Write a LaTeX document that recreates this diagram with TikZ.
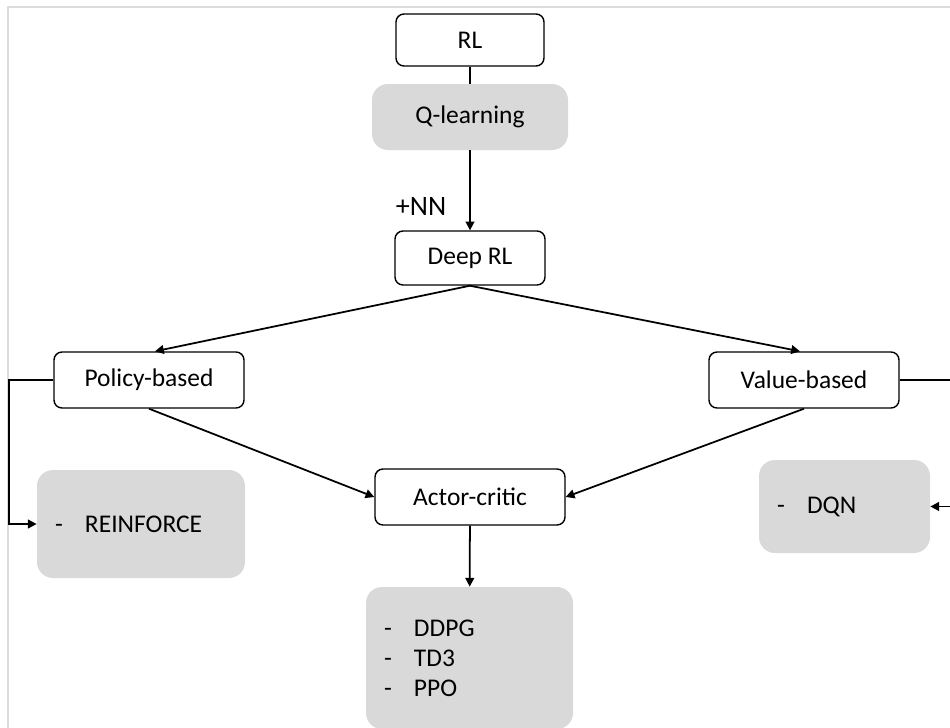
\documentclass[tikz,border=0pt]{standalone}
\usepackage{fontspec}
\setmainfont{Carlito}
\usetikzlibrary{arrows.meta}
\definecolor{boxgray}{HTML}{D9D9D9}
\definecolor{framegray}{HTML}{DCDCDC}
\newcommand{\dashitem}[1]{\makebox[0.6cm][l]{-}#1}
\tikzset{
  box/.style={draw,line width=0.8pt,rounded corners=0.16cm,fill=white,inner sep=0pt,
    font=\fontsize{14.5}{17}\selectfont},
  greybox/.style={fill=boxgray,rounded corners=0.32cm,align=left,inner xsep=0.36cm,inner ysep=0pt,
    font=\fontsize{14.5}{17}\selectfont},
  arr/.style={-{Triangle[length=5pt,width=5pt]},line width=1pt}
}
\begin{document}
\begin{tikzpicture}
\clip (0,0) rectangle (19,-14.54);
\draw[framegray,line width=1.2pt] (0.16,-14.6) -- (0.16,-0.14) -- (19.1,-0.14);
\node[box,minimum width=2.96cm,minimum height=1.04cm] (rl) at (9.40,-0.80) {RL};
\node[greybox,align=center,text width=3.2cm,minimum height=1.32cm] (qlearn) at (9.40,-2.34) {Q-learning};
\node[box,minimum width=3.0cm,minimum height=1.08cm] (deeprl) at (9.40,-5.16) {Deep RL};
\node[box,minimum width=3.8cm,minimum height=1.12cm] (policy) at (2.98,-7.60) {Policy-based};
\node[box,minimum width=3.8cm,minimum height=1.12cm] (value) at (16.08,-7.60) {Value-based};
\node[box,minimum width=3.8cm,minimum height=1.12cm] (actor) at (9.40,-9.94) {Actor-critic};
\node[greybox,text width=3.44cm,minimum height=2.16cm] (reinforce) at (2.82,-10.48) {\dashitem{REINFORCE}};
\node[greybox,text width=2.70cm,minimum height=1.86cm] (dqn) at (16.89,-10.13) {\dashitem{DQN}};
\node[greybox,text width=3.42cm,minimum height=2.84cm] (variants) at (9.39,-13.16)
  {\dashitem{DDPG}\\\dashitem{TD3}\\\dashitem{PPO}};
\draw[line width=1pt] (rl) -- (qlearn);
\draw[arr] (qlearn) -- node[pos=0.70,left=0.34cm,font=\fontsize{16}{18}\selectfont] {+NN} (deeprl);
\draw[arr] (deeprl.south) -- ([xshift=0.12cm]policy.north);
\draw[arr] (deeprl.south) -- ([xshift=-0.08cm]value.north);
\draw[arr] (policy.south) -- (actor.west);
\draw[arr] (value.south) -- (actor.east);
\draw[arr] (actor) -- (variants);
\draw[arr] (policy.west) -- ++(-0.88,0) |- (reinforce.west);
\draw[arr] (value.east) -- ++(1.5,0) |- (dqn.east);
\end{tikzpicture}
\end{document}
